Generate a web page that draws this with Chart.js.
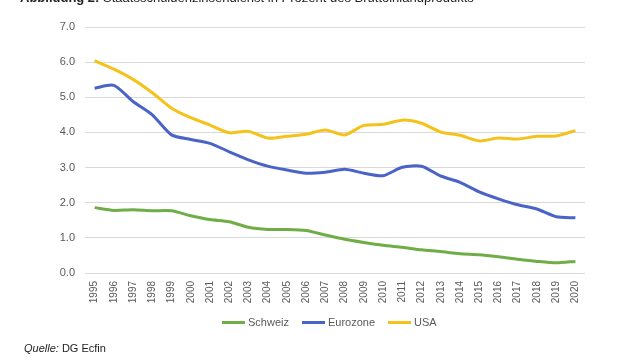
<!DOCTYPE html>
<html>
<head>
<meta charset="utf-8">
<script src="https://cdn.jsdelivr.net/npm/chart.js@4/dist/chart.umd.min.js"></script>
<style>
  html, body { margin: 0; padding: 0; background: #fff; }
  #wrap { position: relative; width: 640px; height: 360px; overflow: hidden; font-family: "Liberation Sans", Arial, sans-serif; }
  #c { position: absolute; left: 0; top: 0; }
  #title { position: absolute; left: 20px; top: -10px; font-size: 13px; color: #222; white-space: nowrap; }
  #legend { position: absolute; left: 222px; top: 316px; font-size: 11px; color: #595959; display: flex; align-items: center; white-space: nowrap; }
  .li { display: flex; align-items: center; margin-right: 13px; }
  .sw { width: 23px; height: 3px; margin-right: 3px; }
  #src { position: absolute; left: 24px; top: 342px; font-size: 11px; color: #222; }
</style>
</head>
<body>
<div id="wrap">
  <canvas id="c" width="640" height="360"></canvas>
  <div id="title"><b>Abbildung 2:</b> Staatsschuldenzinsendienst in Prozent des Bruttoinlandprodukts</div>
  <div id="legend"></div>
  <div id="src"><i>Quelle:</i> DG Ecfin</div>
</div>
<script>
const years = ["1995","1996","1997","1998","1999","2000","2001","2002","2003","2004","2005","2006","2007","2008","2009","2010","2011","2012","2013","2014","2015","2016","2017","2018","2019","2020"];
const schweiz = [1.86,1.78,1.80,1.77,1.77,1.63,1.52,1.46,1.30,1.24,1.24,1.21,1.08,0.96,0.87,0.79,0.73,0.66,0.61,0.55,0.52,0.46,0.39,0.33,0.29,0.33];
const eurozone = [5.26,5.34,4.88,4.50,3.93,3.80,3.69,3.45,3.22,3.04,2.93,2.84,2.87,2.95,2.84,2.77,3.01,3.04,2.76,2.58,2.31,2.11,1.94,1.82,1.60,1.57];
const usa = [6.04,5.80,5.51,5.13,4.69,4.42,4.21,3.99,4.03,3.84,3.89,3.95,4.07,3.93,4.20,4.23,4.35,4.26,4.01,3.92,3.76,3.84,3.81,3.89,3.90,4.05];
const seriesNames = ["Schweiz","Eurozone","USA"];
const seriesColors = ["#70AD47","#4A63C6","#F5C21B"];
const yTicks = [0,1,2,3,4,5,6,7];

const seriesData = [schweiz, eurozone, usa];
const datasets = seriesNames.map((n,i) => ({
  label: n,
  data: seriesData[i],
  borderColor: seriesColors[i],
  backgroundColor: seriesColors[i],
  borderWidth: 3,
  pointRadius: 0,
  tension: 0.25,
  fill: false
}));

const lg = document.getElementById('legend');
seriesNames.forEach((n,i) => {
  const d = document.createElement('div'); d.className = 'li';
  const s = document.createElement('div'); s.className = 'sw'; s.style.background = seriesColors[i];
  const t = document.createElement('span'); t.textContent = n;
  d.appendChild(s); d.appendChild(t); lg.appendChild(d);
});

new Chart(document.getElementById('c'), {
  type: 'line',
  data: { labels: years, datasets },
  options: {
    responsive: false,
    animation: false,
    layout: { padding: { left: 0, right: 55, top: 27, bottom: 0 } },
    plugins: { legend: { display: false }, tooltip: { enabled: false } },
    scales: {
      x: {
        offset: true,
        grid: { display: false, drawTicks: false },
        border: { display: false },
        ticks: { color: '#595959', font: { family: 'Liberation Sans', size: 10 }, minRotation: 90, maxRotation: 90, autoSkip: false, padding: 8 },
        afterFit: s => { s.height = 87; }
      },
      y: {
        min: 0, max: 7,
        afterBuildTicks: s => { s.ticks = yTicks.map(v => ({ value: v })); },
        grid: { color: '#d9d9d9', lineWidth: 1, drawTicks: false },
        border: { display: false },
        ticks: { color: '#595959', font: { family: 'Liberation Sans', size: 11 }, padding: 10, callback: v => Number(v).toFixed(1) },
        afterFit: s => { s.width = 85; }
      }
    }
  }
});
</script>
</body>
</html>
